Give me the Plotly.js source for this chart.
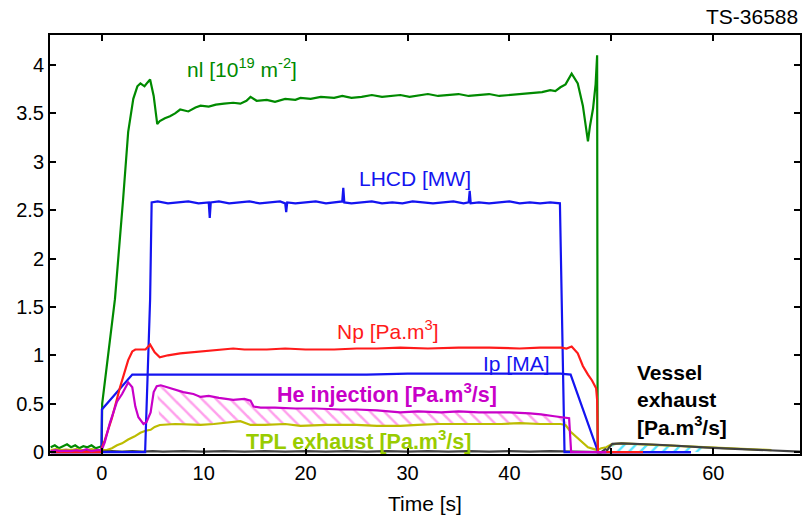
<!DOCTYPE html>
<html><head><meta charset="utf-8">
<script src="https://cdn.plot.ly/plotly-3.0.1.min.js"></script>
<style>html,body{margin:0;padding:0;background:#fff}#chart{width:802px;height:518px}</style>
</head><body><div id="chart"></div>
<script>
// ---- data (time in s) ----
const nlT = [-5,-4.6,-4.2,-3.8,-3.4,-3,-2.6,-2.2,-1.8,-1.4,-1,-0.6,-0.2,0,
  0.05,0.6,1.3,2.1,2.6,3.1,3.5,3.8,4.2,4.5,4.75,5.1,5.45,5.7,
  6.2,6.7,7.2,7.7,8.5,9.2,9.7,10.5,11.2,12,12.9,13.6,14.2,14.6,
  15.2,16.2,17,18,19,19.5,20.5,21.5,22.8,23.6,24.5,25.5,26.5,27.5,
  28.5,29.3,30.2,31,32,33,34,35,36,37,38,39,40,41,
  42.4,43.2,44,44.5,45,45.5,46.1,46.7,47.2,47.7,47.9,48.2,48.45,48.6,
  48.65,49.0];
const nlV = [0.05,0.07,0.04,0.06,0.08,0.05,0.07,0.04,0.06,0.05,0.07,0.04,0.05,0.06,
  0.5,0.96,1.58,2.61,3.31,3.65,3.78,3.81,3.78,3.82,3.85,3.68,3.39,3.42,
  3.45,3.47,3.50,3.54,3.52,3.56,3.58,3.57,3.59,3.60,3.61,3.60,3.63,3.67,
  3.63,3.64,3.62,3.65,3.64,3.66,3.65,3.67,3.66,3.68,3.66,3.67,3.69,3.67,
  3.68,3.69,3.67,3.68,3.70,3.68,3.69,3.70,3.68,3.69,3.70,3.68,3.69,3.70,
  3.71,3.72,3.74,3.73,3.77,3.80,3.91,3.81,3.58,3.21,3.37,3.55,3.80,4.10,
  0,0];

const lhT = [-5,4.26,4.75,4.9,5.5,6.5,7.5,8.5,9.5,10.5,10.6,10.7,11.5,12.5,13.5,14.5,15.5,16.5,17.5,
  18.0,18.1,18.2,19,20,21,22,23,23.6,23.7,23.8,24.5,25.5,26.5,27.5,28.5,29.5,30.5,31.5,32.5,33.5,34.5,35.5,
  36.0,36.1,36.2,37,38,39,40,41,42,43,44,44.95,45.15,45.4,57.8];
const lhV = [0,0,1.58,2.58,2.59,2.57,2.58,2.59,2.57,2.58,2.42,2.58,2.59,2.57,2.58,2.59,2.57,2.58,2.59,
  2.57,2.48,2.58,2.57,2.58,2.59,2.57,2.58,2.59,2.73,2.58,2.57,2.58,2.59,2.57,2.58,2.57,2.59,2.58,2.57,2.58,2.59,2.57,
  2.58,2.70,2.57,2.58,2.57,2.58,2.59,2.57,2.58,2.57,2.58,2.57,1.58,0,0];

const ipT = [-5,-0.02,0.02,3.0,6,10,14,18,22,26,30,34,38,42,45,46.0,48.7,57.8];
const ipV = [0,0,0.44,0.80,0.80,0.80,0.80,0.80,0.80,0.80,0.81,0.81,0.81,0.81,0.81,0.80,0,0];

const npT = [-5,-0.1,0,0.3,1.0,1.8,2.6,3.0,3.3,4.3,4.75,5.2,5.7,6.5,7.7,9.7,11,12.9,14,16.2,
  18,20,22.8,25,27,29.3,32,35,38,41,43,45.1,45.6,46.1,46.7,47.2,47.7,48.1,48.5,48.6,48.68,53.1];
const npV = [0,0,0.04,0.12,0.35,0.67,0.95,1.04,1.06,1.06,1.11,1.03,0.98,1.00,1.02,1.04,1.05,1.07,1.06,1.06,
  1.07,1.06,1.06,1.07,1.07,1.08,1.07,1.08,1.08,1.07,1.08,1.08,1.07,1.09,1.02,0.89,0.80,0.74,0.66,0.54,0,0];

const heT = [-5,-4.5,-4,-3.5,-3,-2.5,-2,-1.5,-1,-0.5,0,
  0.3,0.8,1.5,2.0,2.6,3.0,3.3,3.6,4.1,4.4,4.8,5.1,5.4,5.8,6.5,7.2,8,9,9.7,10.5,
  11.5,12.9,14,14.6,14.9,15.6,17,19,21,23.4,25,27,29.3,31,33.3,35,37,39,40,42,
  43.1,44.4,45.2,45.85,46.05,49.5];
const heV = [0.01,0.02,0.01,0.015,0.01,0.02,0.01,0.03,0.01,0.02,0.02,
  0.1,0.3,0.52,0.6,0.72,0.67,0.47,0.36,0.29,0.31,0.41,0.62,0.68,0.69,0.67,0.65,0.62,0.6,0.57,0.58,
  0.56,0.54,0.55,0.53,0.47,0.46,0.46,0.45,0.45,0.44,0.44,0.43,0.41,0.42,0.41,0.42,0.41,0.41,0.41,0.40,
  0.39,0.37,0.36,0.35,0,0];

const tpT = [-5,-4.5,-4,-3.5,-3,-2.5,-2,-1.5,-1,-0.5,0,
  0.5,1.0,1.5,2.0,2.6,3.2,3.8,4.3,4.8,5.2,5.7,7.2,9.7,11,12.9,13.6,14.6,16,18,19.5,
  22,25,27,29.3,31,33,35,37,39.2,41,43,45,45.5,46,46.8,47.7,48.3,48.6,49.0,49.5,
  50,51,52,53,55,57,58.8,60,62,64,65.7];
const tpV = [0.02,0.03,0.02,0.025,0.02,0.03,0.02,0.02,0.03,0.02,0.02,
  0.02,0.04,0.07,0.09,0.13,0.16,0.2,0.22,0.23,0.26,0.28,0.29,0.28,0.29,0.31,0.32,0.28,0.28,0.29,0.27,
  0.28,0.28,0.27,0.27,0.28,0.29,0.29,0.29,0.29,0.30,0.29,0.29,0.28,0.21,0.13,0.05,0.03,0.02,0.04,0.05,
  0.08,0.09,0.085,0.08,0.075,0.06,0.05,0.045,0.035,0.025,0.02];

const veT = [-5,-4,-3,-2,-1,0,1,2,3,4,5,6,
  8,10,12,14,16,18,20,22,24,26,28,30,32,34,36,38,40,42,44,46,48,
  49.0,49.4,49.6,49.8,50.1,51,52,54,56,57.7,59,61,63,65.6,67,68.5];
const veV = [0.01,0.005,0.01,0.005,0.01,0.005,0.01,0.005,0.01,0.005,0.01,0.005,
  0.01,0.005,0.01,0.005,0.01,0.005,0.01,0.005,0.01,0.005,0.01,0.005,0.01,0.005,0.01,0.005,0.01,0.005,0.01,0.005,0.005,
  0.0,0.03,0.02,0.05,0.085,0.09,0.088,0.078,0.068,0.055,0.048,0.038,0.028,0.015,0.008,0.005];

const heHatchWindow = [5.3, 45.85];
const veHatchWindow = [50.1, 59.5];

const xTicks = [0,10,20,30,40,50,60];
const yTicks = [0,0.5,1,1.5,2,2.5,3,3.5,4];
const yTickText = ['0','0.5','1','1.5','2','2.5','3','3.5','4'];

// ---- build ----
function windowed(T, V, w){
  const x=[],y=[];
  T.forEach((t,i)=>{ if(t>=w[0] && t<=w[1]){x.push(t);y.push(V[i]);} });
  return {x,y};
}
const FONT = 'Liberation Sans, Arial, Helvetica, sans-serif';
const C = {green:'#008a00', blue:'#1414f0', red:'#ff1a1a', mag:'#c800c8', yel:'#bcbc00', grey:'#404040', tplLab:'#99cc00'};

const heLow = windowed(tpT,tpV,heHatchWindow);
const heUp = windowed(heT,heV,heHatchWindow);
const veW = windowed(veT,veV,veHatchWindow);

const line = (x,y,color,w)=>({x,y,type:'scatter',mode:'lines',line:{color,width:w||2.2},hoverinfo:'skip',showlegend:false});

const traces = [
  {x:heLow.x,y:heLow.y,type:'scatter',mode:'lines',line:{width:0},showlegend:false,hoverinfo:'skip'},
  {x:heUp.x,y:heUp.y,type:'scatter',mode:'lines',line:{width:0},fill:'tonexty',fillcolor:'rgba(0,0,0,0)',
   fillpattern:{shape:'\\',fgcolor:'#ffa0ec',bgcolor:'rgba(255,255,255,0)',size:10,solidity:0.25},showlegend:false,hoverinfo:'skip'},
  {x:veW.x,y:veW.y,type:'scatter',mode:'lines',line:{width:0},fill:'tozeroy',fillcolor:'rgba(0,0,0,0)',
   fillpattern:{shape:'/',fgcolor:'#55e6ff',bgcolor:'rgba(255,255,255,0)',size:8,solidity:0.3},showlegend:false,hoverinfo:'skip'},
  line(nlT,nlV,C.green),
  line(tpT,tpV,C.yel),
  line(veT,veV,C.grey),
  line(lhT,lhV,C.blue),
  line(ipT,ipV,C.blue),
  line(npT,npV,C.red),
  line(heT,heV,C.mag)
];

const ann = (x,y,text,color,opts)=>Object.assign({x,y,xref:'x',yref:'y',text,showarrow:false,xanchor:'left',yanchor:'middle',
  font:{family:FONT,size:21,color}},opts||{});

const layout = {
  width:802,height:518,
  margin:{l:50,r:2,t:35,b:64},
  paper_bgcolor:'#fff',plot_bgcolor:'#fff',
  font:{family:FONT,size:20,color:'#000'},
  xaxis:{range:[-5.07,68.5],tickvals:xTicks,ticks:'inside',ticklen:6,tickwidth:2,tickcolor:'#000',
    showline:true,linewidth:2,linecolor:'#000',mirror:'ticks',showgrid:false,zeroline:false,
    tickfont:{family:FONT,size:20,color:'#000'},
    title:{text:'Time [s]',font:{family:FONT,size:21,color:'#000'},standoff:13}},
  yaxis:{range:[-0.02,4.31],tickvals:yTicks,ticktext:yTickText,ticks:'inside',ticklen:6,tickwidth:2,tickcolor:'#000',
    showline:true,linewidth:2,linecolor:'#000',mirror:'ticks',showgrid:false,zeroline:false,
    tickfont:{family:FONT,size:20,color:'#000'}},
  annotations:[
    ann(8.2,3.97,'nl [10<sup>19</sup> m<sup>-2</sup>]',C.green),
    ann(25.0,2.83,'LHCD [MW]',C.blue),
    ann(22.9,1.26,'Np [Pa.m<sup>3</sup>]',C.red),
    ann(37.2,0.92,'Ip [MA]',C.blue),
    ann(17.0,0.61,'<b>He injection [Pa.m<sup>3</sup>/s]</b>',C.mag,{font:{family:FONT,size:21.5,color:C.mag}}),
    ann(14.0,0.12,'<b>TPL exhaust [Pa.m<sup>3</sup>/s]</b>',C.tplLab,{font:{family:FONT,size:21.5,color:C.tplLab}}),
    ann(52.3,0.54,'<b>Vessel<br>exhaust<br>[Pa.m<sup>3</sup>/s]</b>','#000',{align:'left'}),
    {x:1,y:1.043,xref:'paper',yref:'paper',text:'TS-36588',showarrow:false,xanchor:'right',yanchor:'middle',
     font:{family:FONT,size:21,color:'#000'}}
  ]
};
Plotly.newPlot('chart',traces,layout,{displayModeBar:false,staticPlot:true});
</script></body></html>
